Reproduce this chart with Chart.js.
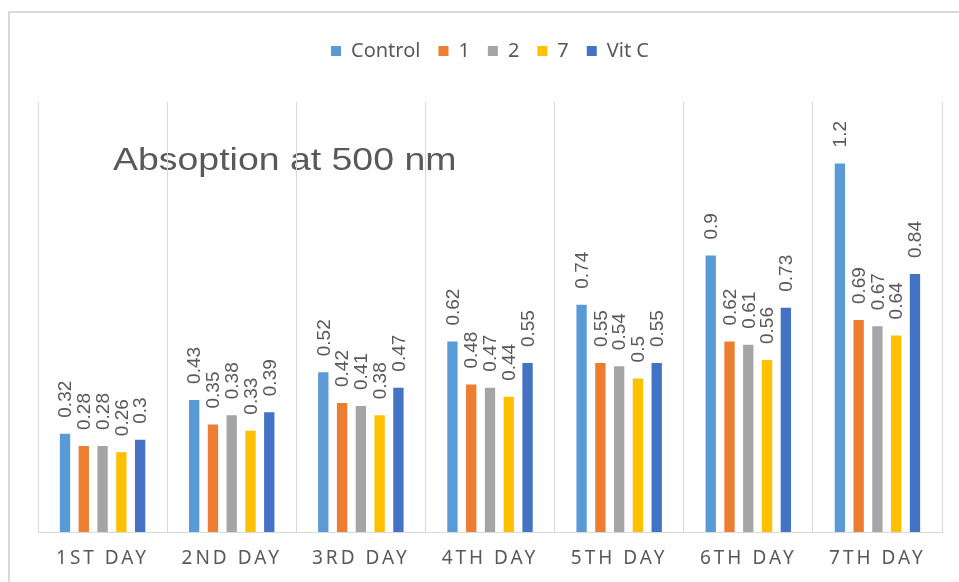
<!DOCTYPE html>
<html lang="en">
<head>
<meta charset="utf-8" />
<title>Absoption at 500 nm</title>
<script src="https://cdn.jsdelivr.net/npm/chart.js@4.4.1/dist/chart.umd.min.js"></script>
<style>
	body { margin: 0; background: #fff; }
	#wrap { position: relative; width: 959px; height: 582px; overflow: hidden; }
	#frame { position: absolute; left: 8px; top: 11px; width: 1000px; height: 700px;
		border-left: 2px solid #d9d9d9; border-top: 2px solid #d9d9d9; }
	#chart { position: absolute; left: 0; top: 0; }
</style>
</head>
<body>
<div id="wrap">
	<div id="frame"></div>
	<canvas id="chart" width="959" height="582"></canvas>
</div>
<script>
	var days = ["1ST DAY", "2ND DAY", "3RD DAY", "4TH DAY", "5TH DAY", "6TH DAY", "7TH DAY"];
	var control = [0.32, 0.43, 0.52, 0.62, 0.74, 0.9, 1.2];
	var s1 = [0.28, 0.35, 0.42, 0.48, 0.55, 0.62, 0.69];
	var s2 = [0.28, 0.38, 0.41, 0.47, 0.54, 0.61, 0.67];
	var s7 = [0.26, 0.33, 0.38, 0.44, 0.5, 0.56, 0.64];
	var vitC = [0.3, 0.39, 0.47, 0.55, 0.55, 0.73, 0.84];
	var chartTitle = "Absoption at 500 nm";

	var grey = "#595959";

	// title sits inside the plot, under the grid lines
	var titlePlugin = {
		id: "insideTitle",
		beforeDraw: (chart) => {
			const ctx = chart.ctx;
			ctx.save();
			ctx.fillStyle = grey;
			ctx.font = "32px 'Liberation Sans', Arial, sans-serif";
			ctx.textBaseline = "alphabetic";
			ctx.translate(113, 170);
			ctx.scale(1.17, 1);
			ctx.fillText(chartTitle, 0, 0);
			ctx.restore();

			// spread the day labels like the original
			const x = chart.scales.x;
			if (x && !x._spaced) {
				const orig = x.drawLabels.bind(x);
				x.drawLabels = function (area) {
					chart.ctx.save();
					chart.ctx.letterSpacing = "3px";
					orig(area);
					chart.ctx.restore();
				};
				x._spaced = true;
			}
		}
	};

	// rotated value labels above every bar
	var valuePlugin = {
		id: "values",
		afterDatasetsDraw: (chart) => {
			const ctx = chart.ctx;
			ctx.save();
			ctx.fillStyle = grey;
			ctx.font = "19px 'Liberation Sans', Arial, sans-serif";
			ctx.textAlign = "left";
			ctx.textBaseline = "middle";
			chart.data.datasets.forEach((ds, i) => {
				chart.getDatasetMeta(i).data.forEach((bar, j) => {
					ctx.save();
					ctx.translate(bar.x + 1, bar.y - 16);
					ctx.rotate(-Math.PI / 2);
					ctx.fillText(String(ds.data[j]), 0, 0);
					ctx.restore();
				});
			});
			ctx.restore();
		}
	};

	// leave the gap between legend and plot
	var legendGap = {
		id: "legendGap",
		beforeInit: (chart) => {
			const fit = chart.legend.fit;
			chart.legend.fit = function () {
				fit.bind(chart.legend)();
				this.height += 31;
			};
		}
	};

	new Chart(document.getElementById("chart"), {
		type: "bar",
		data: {
			labels: days,
			datasets: [
				{ label: "Control", data: control, backgroundColor: "#5B9BD5" },
				{ label: "1", data: s1, backgroundColor: "#ED7D31" },
				{ label: "2", data: s2, backgroundColor: "#A5A5A5" },
				{ label: "7", data: s7, backgroundColor: "#FFC000" },
				{ label: "Vit C", data: vitC, backgroundColor: "#4472C4" }
			]
		},
		options: {
			responsive: false,
			animation: false,
			datasets: {
				bar: { categoryPercentage: 0.727, barPercentage: 0.55, borderWidth: 0 }
			},
			layout: { padding: { left: 38, right: 17, top: 23, bottom: 0 } },
			plugins: {
				legend: {
					position: "top",
					labels: {
						boxWidth: 10,
						boxHeight: 10,
						padding: 18,
						color: grey,
						font: { family: "'Noto Sans', sans-serif", size: 20 }
					}
				},
				tooltip: { enabled: false }
			},
			scales: {
				x: {
					grid: { color: "#d9d9d9", lineWidth: 1, drawTicks: false, offset: true },
					border: { color: "#d9d9d9", width: 1 },
					ticks: {
						color: grey,
						padding: 15,
						maxRotation: 0,
						font: { family: "'Noto Sans', sans-serif", size: 19, lineHeight: 1.2 }
					},
					afterFit: (scale) => { scale.height = 50; }
				},
				y: {
					display: false,
					min: 0,
					max: 1.4
				}
			}
		},
		plugins: [titlePlugin, valuePlugin, legendGap]
	});
</script>
</body>
</html>
